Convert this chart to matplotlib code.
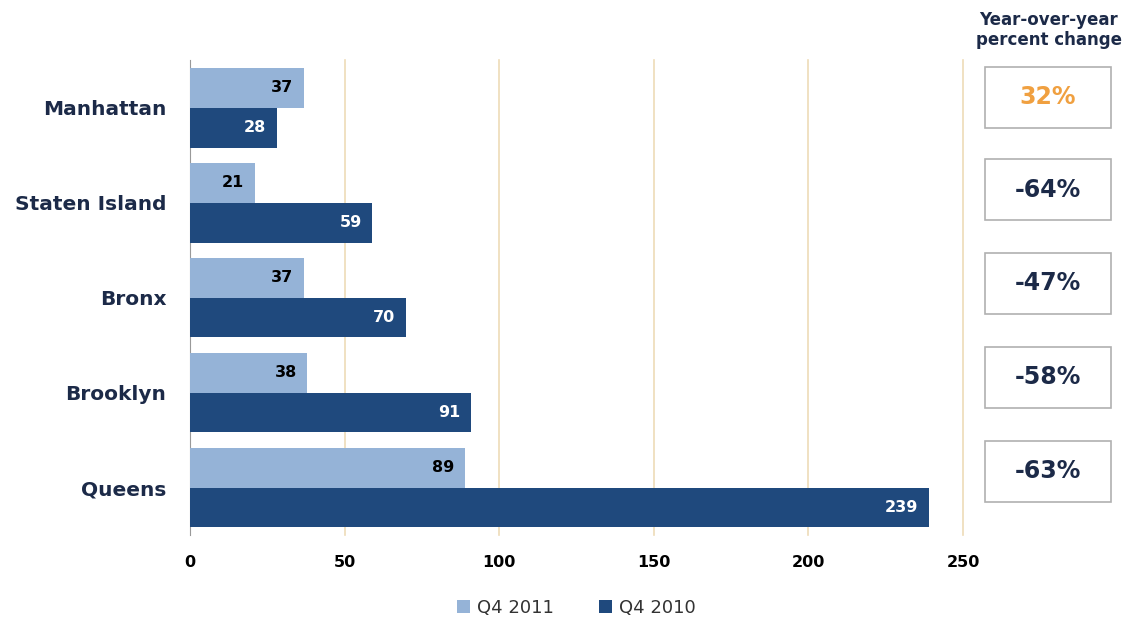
import numpy as np
import matplotlib.pyplot as plt
from matplotlib.patches import Rectangle

boroughs = ['Manhattan', 'Staten Island', 'Bronx', 'Brooklyn', 'Queens']
q4_2011 = [37, 21, 37, 38, 89]
q4_2010 = [28, 59, 70, 91, 239]
yoy = ['32%', '-64%', '-47%', '-58%', '-63%']
xticks = [0, 50, 100, 150, 200, 250]

light = '#95b3d7'
dark = '#1f497d'
navy = '#1c2a48'

fig = plt.figure(figsize=(11.41, 6.2), dpi=100)
ax = fig.add_axes([0.1665, 0.137, 0.6775, 0.766])

y = np.arange(len(boroughs))
h = 0.42
b1 = ax.barh(y - h / 2, q4_2011, height=h, color=light, zorder=3)
b2 = ax.barh(y + h / 2, q4_2010, height=h, color=dark, zorder=3)

for rect, v in zip(b1, q4_2011):
    ax.text(v - 3.5, rect.get_y() + rect.get_height() / 2, str(v), ha='right', va='center',
            fontsize=11.5, fontweight='bold', color='black', zorder=4)
for rect, v in zip(b2, q4_2010):
    ax.text(v - 3.5, rect.get_y() + rect.get_height() / 2, str(v), ha='right', va='center',
            fontsize=11.5, fontweight='bold', color='white', zorder=4)

ax.set_xlim(0, 250)
ax.set_ylim(len(boroughs) - 0.5, -0.5)
ax.set_yticks(y)
ax.set_yticklabels(boroughs, fontsize=14.5, fontweight='bold', color=navy)
ax.set_xticks(xticks)
ax.set_xticklabels([str(t) for t in xticks], fontsize=11.5, fontweight='bold', color='black')
ax.tick_params(axis='y', length=0, pad=17)
ax.tick_params(axis='x', length=0, pad=14)
for t in xticks[1:]:
    ax.axvline(t, color='#eedcb8', lw=1.2, zorder=1, clip_on=False)
for s in ['top', 'right', 'bottom']:
    ax.spines[s].set_visible(False)
ax.spines['left'].set_color('#999999')

# year-over-year boxes
fig.text(0.919, 0.952, 'Year-over-year\npercent change', ha='center', va='center',
         fontsize=12, fontweight='bold', color=navy, linespacing=1.15)
box_cy = [97, 190, 283, 377, 471]
for i, (lab, cy) in enumerate(zip(yoy, box_cy)):
    x0 = 985 / 1141
    w = 126 / 1141
    hh = 61 / 620
    yc = 1 - cy / 620
    fig.patches.append(Rectangle((x0, yc - hh / 2), w, hh, transform=fig.transFigure,
                                 facecolor='white', edgecolor='#b0b0b0', lw=1.2))
    fig.text(x0 + w / 2, yc, lab, ha='center', va='center', fontsize=17, fontweight='bold',
             color='#f0a040' if i == 0 else navy)

ax.legend([b1, b2], ['Q4 2011', 'Q4 2010'], loc='upper center', bbox_to_anchor=(0.5, -0.1),
          ncol=2, frameon=False, fontsize=13, handlelength=0.7, handleheight=0.7,
          columnspacing=2.5, handletextpad=0.4, labelcolor='#333333')

fig.savefig('out.png', dpi=100)
